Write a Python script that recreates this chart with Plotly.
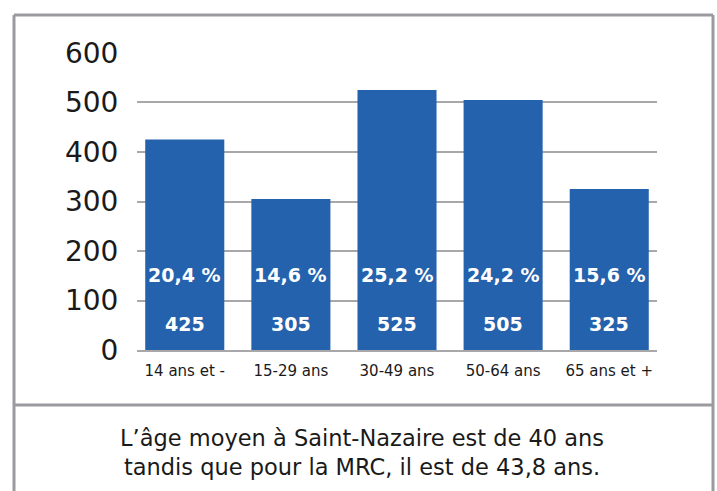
import plotly.graph_objects as go

categories = ["14 ans et -", "15-29 ans", "30-49 ans", "50-64 ans", "65 ans et +"]
values = [425, 305, 525, 505, 325]
percent_labels = ["20,4 %", "14,6 %", "25,2 %", "24,2 %", "15,6 %"]
y_ticks = [0, 100, 200, 300, 400, 500, 600]
caption = "L’âge moyen à Saint-Nazaire est de 40 ans<br>tandis que pour la MRC, il est de 43,8 ans."

BLUE = "#2462AD"
FONT = "DejaVu Sans"

fig = go.Figure()
fig.add_trace(go.Bar(x=categories, y=values, marker_color=BLUE, marker_line_width=0,
                     hoverinfo="skip"))

annotations = []
for c, v, p in zip(categories, values, percent_labels):
    annotations.append(dict(x=c, y=151, xref="x", yref="y", text=f"<b>{p}</b>", showarrow=False,
                            xanchor="center", yanchor="middle",
                            font=dict(family=FONT, size=19, color="white")))
    annotations.append(dict(x=c, y=52, xref="x", yref="y", text=f"<b>{v}</b>", showarrow=False,
                            xanchor="center", yanchor="middle",
                            font=dict(family=FONT, size=19, color="white")))

# plot area pixels: x 137..657, y 52..350
L, R, T, B = 137, 657, 52, 350
W, H = R - L, B - T
def px(x):
    return (x - L) / W
def py(y):
    return (B - y) / H

annotations.append(dict(x=px(362), y=py(452), xref="paper", yref="paper", text=caption,
                        showarrow=False, align="center", xanchor="center", yanchor="middle",
                        font=dict(family=FONT, size=22.5, color="#1a1a1a")))

border = "#9b9b9f"
shapes = [
    dict(type="line", xref="paper", yref="paper", x0=px(14), x1=px(713), y0=py(15), y1=py(15),
         line=dict(color=border, width=3)),
    dict(type="line", xref="paper", yref="paper", x0=px(14), x1=px(14), y0=py(15), y1=py(500),
         line=dict(color=border, width=3)),
    dict(type="line", xref="paper", yref="paper", x0=px(713), x1=px(713), y0=py(15), y1=py(500),
         line=dict(color=border, width=3)),
    dict(type="line", xref="paper", yref="paper", x0=px(14), x1=px(713), y0=py(405), y1=py(405),
         line=dict(color=border, width=3)),
]

fig.update_layout(
    width=717, height=491,
    margin=dict(l=L, r=717 - R, t=T, b=491 - B, pad=0),
    paper_bgcolor="white", plot_bgcolor="white",
    bargap=0.255, showlegend=False,
    annotations=annotations, shapes=shapes,
    font=dict(family=FONT, color="#1a1a1a"),
)
fig.update_xaxes(range=[-0.45, 4.45], showgrid=False, showline=True, linecolor="#a8a8ab", linewidth=1.5,
                 ticks="outside", ticklen=6, tickcolor="rgba(0,0,0,0)",
                 tickfont=dict(family=FONT, size=15, color="#1a1a1a"), fixedrange=True)
fig.update_yaxes(range=[0, 602], tickvals=y_ticks, showgrid=True, gridcolor="#a8a8ab", gridwidth=1.5,
                 zeroline=False, showline=False,
                 ticks="outside", ticklen=12, tickcolor="rgba(0,0,0,0)",
                 tickfont=dict(family=FONT, size=28, color="#1a1a1a"), fixedrange=True)

fig.write_html("out.html", config={"displayModeBar": False},
               post_script="document.body.style.margin='0';document.body.style.overflow='hidden';")
